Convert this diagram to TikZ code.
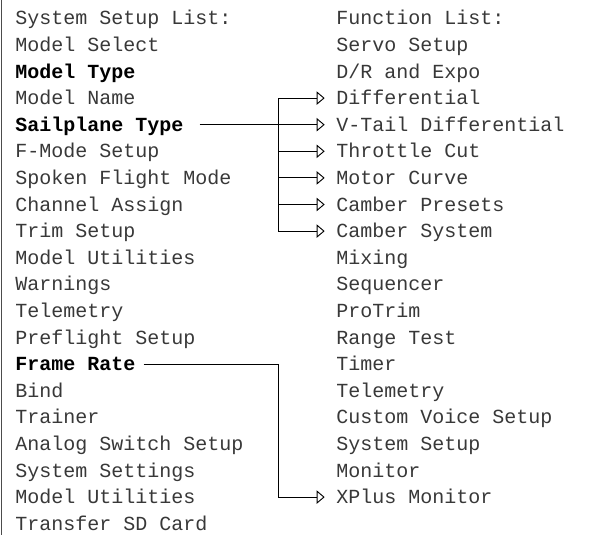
\documentclass[tikz,border=0pt]{standalone}
\usepackage{fontspec}
\setmainfont{Liberation Mono}
\usepackage{xcolor}
\usepackage{tikz}
\usetikzlibrary{arrows, arrows.meta}

\begin{document}
\begin{tikzpicture}[x=0.75pt, y=-0.75pt,
		item/.style={anchor=west, inner sep=0pt, text height=9.9pt, text depth=0pt,
			font=\fontsize{15pt}{18pt}\selectfont, text=black!78},
		link/.style={draw=black, line width=0.7pt},
		feed/.style={-{Triangle[open, length=6pt, width=10pt, line width=0.7pt]}, shorten >=8.5pt}]
	\useasboundingbox (0,0) rectangle (590,535);
	\draw[line width=0.8pt, black!70] (1.5,0) -- (1.5,535);
	% system setup list
	\foreach \txt [count=\i] in {System Setup List:, Model Select, {\color{black}\bfseries Model Type}, Model Name,
		{\color{black}\bfseries Sailplane Type}, F-Mode Setup, Spoken Flight Mode, Channel Assign, Trim Setup,
		Model Utilities, Warnings, Telemetry, Preflight Setup, {\color{black}\bfseries Frame Rate}, Bind, Trainer,
		Analog Switch Setup, System Settings, Model Utilities, Transfer SD Card}
		\node[item] (left\i) at (15, 18.3+26.6*\i-26.6){\txt};
	% function list
	\foreach \txt [count=\i] in {Function List:, Servo Setup, D/R and Expo, Differential, V-Tail Differential,
		Throttle Cut, Motor Curve, Camber Presets, Camber System, Mixing, Sequencer, ProTrim, Range Test, Timer,
		Telemetry, Custom Voice Setup, System Setup, Monitor, XPlus Monitor}
		\node[item] (right\i) at (336, 18.3+26.6*\i-26.6){\txt};
	\coordinate (trunk) at (278,0);
	\draw[link] (trunk |- right4.west) -- (trunk |- right9.west);
	\foreach \n in {4,6,7,8,9}
		\draw[link, feed] (trunk |- right\n.west) -- (right\n.west);
	\draw[link, feed, shorten <=12pt] (left5.east) -- (right5.west);
	\draw[link, feed, shorten <=6pt] (left14.east) -| (trunk |- right19.west) -- (right19.west);
\end{tikzpicture}
\end{document}
